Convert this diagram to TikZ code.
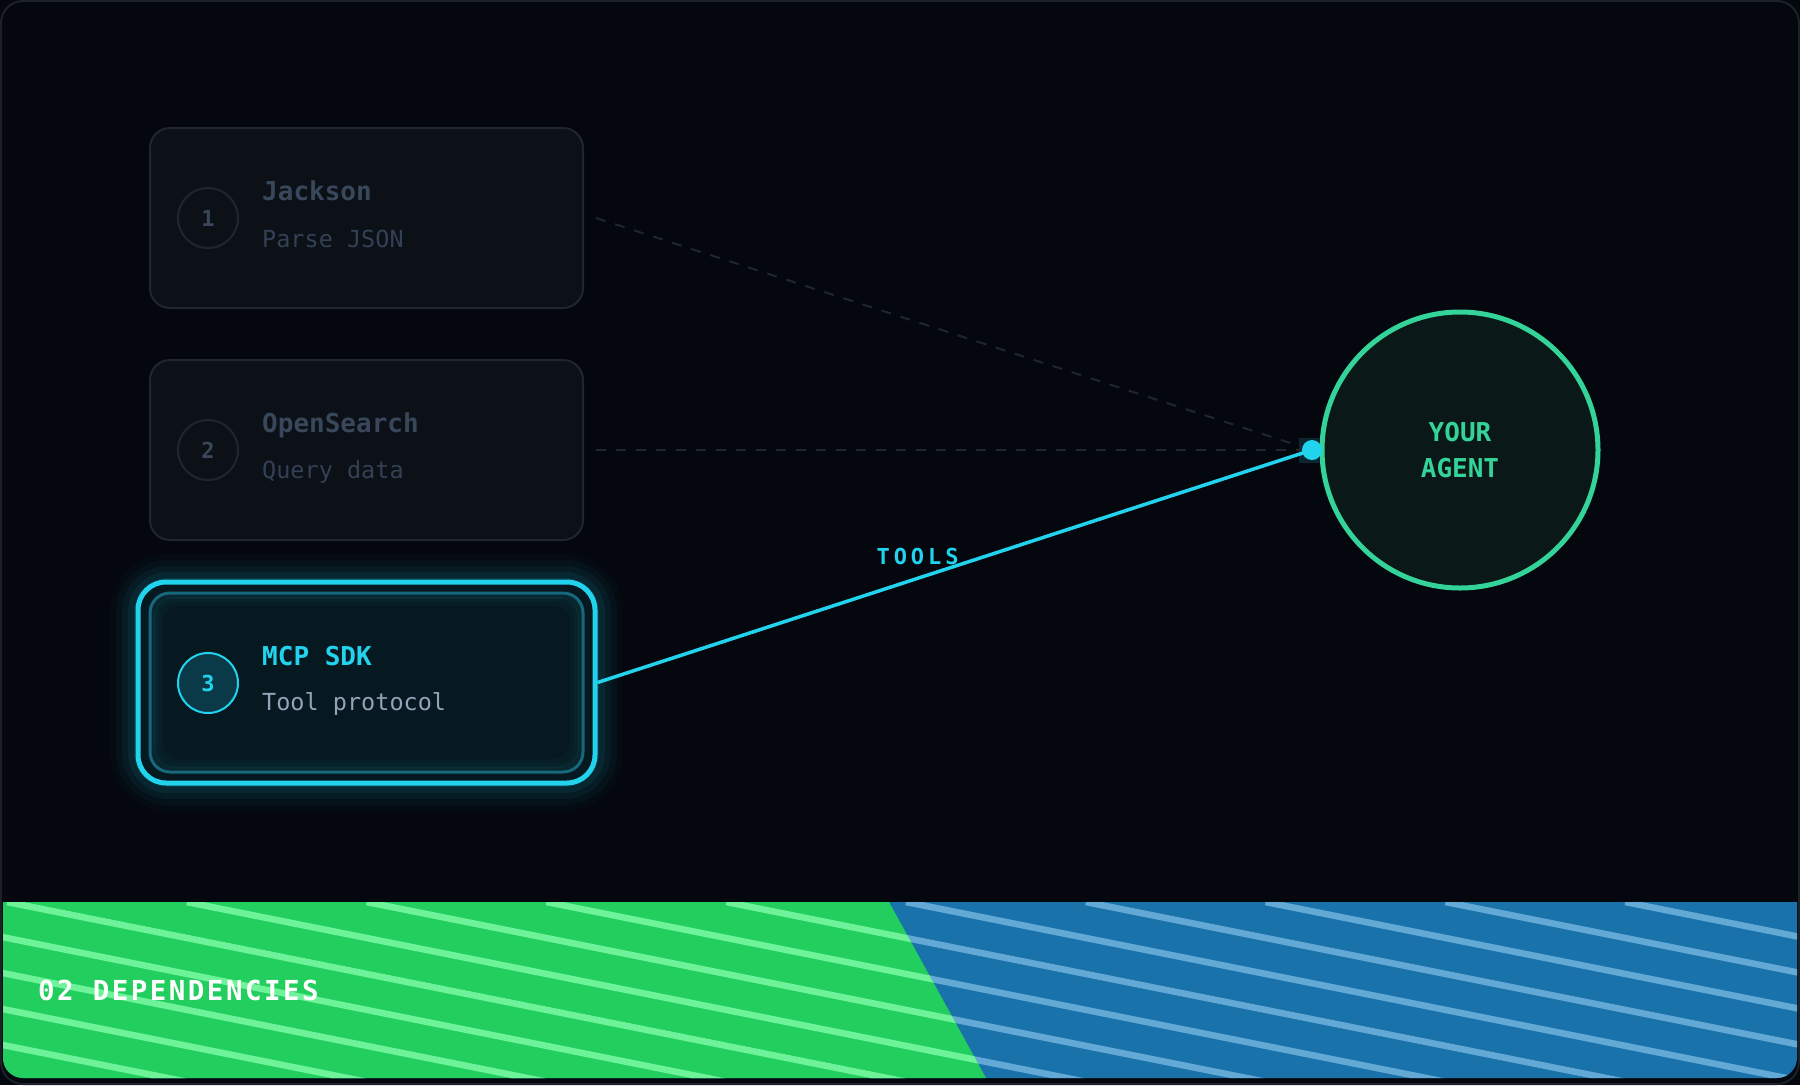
\documentclass[tikz,border=0pt]{standalone}
\usepackage{fontspec}
\setmonofont{DejaVu Sans Mono}
\newfontfamily\toolsfont[LetterSpace=18]{DejaVu Sans Mono}
\newfontfamily\bandfont[LetterSpace=9]{DejaVu Sans Mono}
\begin{document}
\begin{tikzpicture}[x=1pt, y=-1pt,
  card/.style={draw=cardline, fill=cardfill, line width=2pt, rounded corners=20pt, minimum width=433pt, minimum height=180pt, inner sep=0pt},
  numdot/.style={circle, draw=cardline, line width=2pt, minimum size=60pt, inner sep=0pt, text=dimtext, font=\ttfamily\bfseries\fontsize{22}{22}\selectfont},
  cardtitle/.style={anchor=base west, inner sep=0pt, text=dimtext, font=\ttfamily\bfseries\fontsize{26}{26}\selectfont},
  carddesc/.style={anchor=base west, inner sep=0pt, text=dimdesc, font=\ttfamily\fontsize{23.5}{23.5}\selectfont},
  faintline/.style={draw=dashcol, line width=2pt, dash pattern=on 10pt off 10pt}]
\definecolor{page}{HTML}{04070D}
\definecolor{frame}{HTML}{1B2029}
\definecolor{cardfill}{HTML}{0C1017}
\definecolor{cardline}{HTML}{1F2630}
\definecolor{dimtext}{HTML}{39475A}
\definecolor{dimdesc}{HTML}{334154}
\definecolor{dashcol}{HTML}{1E2631}
\definecolor{toolcyan}{HTML}{22D3EE}
\definecolor{mcpfill}{HTML}{071920}
\definecolor{mcpinner}{HTML}{17687C}
\definecolor{mcpnum}{HTML}{0A3A48}
\definecolor{mcpdesc}{HTML}{94A3B8}
\definecolor{agentgreen}{HTML}{34D399}
\definecolor{agentfill}{HTML}{0A1917}
\definecolor{hubglow}{HTML}{0A2631}
\definecolor{bandgreen}{HTML}{22CE5E}
\definecolor{greenstripe}{HTML}{6EF29A}
\definecolor{bandblue}{HTML}{1A72AA}
\definecolor{bluestripe}{HTML}{62A9D6}
\useasboundingbox (0,0) rectangle (1800,1085);
\fill[page] (0,0) rectangle (1800,1085);
\draw[frame, fill=page, line width=2pt, rounded corners=22pt] (1,1) rectangle (1799,1084);
%Band:
\begin{scope}
\clip[rounded corners=20pt] (3,860) rectangle (1797,1078);
\clip (0,902) rectangle (1800,1085);
\fill[bandblue] (0,902) rectangle (1800,1085);
\foreach \k in {-5,...,10} \draw[bluestripe, line width=6.5pt] (7+179.8*\k,902) -- ++(1000,200);
\clip (0,902) -- (889,902) -- (986,1078) -- (0,1078) -- cycle;
\fill[bandgreen] (0,902) rectangle (1800,1085);
\foreach \k in {-5,...,10} \draw[greenstripe, line width=6.5pt] (7+179.8*\k,902) -- ++(1000,200);
\end{scope}
\node[anchor=base west, inner sep=0pt, text=white, font=\bandfont\bfseries\fontsize{27.5}{27.5}\selectfont] (bandlabel) at (38,1000) {02 DEPENDENCIES};
%Cards:
\node[card] (jackson) at (366.5,218) {};
\node[numdot] (n1) at (208,218) {1};
\node[cardtitle] (jackson-name) at (262,200) {Jackson};
\node[carddesc] (jackson-desc) at (262,247) {Parse JSON};

\node[card] (opensearch) at (366.5,450) {};
\node[numdot] (n2) at (208,450) {2};
\node[cardtitle] (opensearch-name) at (262,432) {OpenSearch};
\node[carddesc] (opensearch-desc) at (262,478) {Query data};
%Glow:
\foreach \g/\o in {28/0.025, 22/0.035, 16/0.05, 10/0.07, 4/0.09}
  \fill[toolcyan, opacity=\o, rounded corners=30pt+\g pt] (138-\g,582-\g) rectangle (595+\g,783+\g);
\node[draw=toolcyan, fill=mcpfill, line width=5pt, rounded corners=28pt, minimum width=457pt, minimum height=201pt, inner sep=0pt] (mcpframe) at (366.5,682.5) {};
\foreach \g/\o in {10/0.03, 6/0.05, 3/0.07}
  \draw[toolcyan, opacity=\o, line width=5pt, rounded corners=20pt] (150+\g,593+\g) rectangle (583-\g,772-\g);
\node[card, draw=mcpinner, fill=none, line width=3pt, minimum height=179pt] (mcp) at (366.5,682.5) {};
\node[numdot, draw=toolcyan, fill=mcpnum, text=toolcyan] (n3) at (208,683) {3};
\node[cardtitle, text=toolcyan] (mcp-name) at (262,665) {MCP SDK};
\node[carddesc, text=mcpdesc] (mcp-desc) at (262,710) {Tool protocol};
%Agent:
\node[circle, draw=agentgreen, fill=agentfill, line width=5pt, minimum size=276pt, inner sep=0pt, align=center, text=agentgreen, font=\ttfamily\bfseries\fontsize{26}{36}\selectfont] (agent) at (1460,450) {YOUR\\AGENT};
\fill[hubglow] (1299,438) rectangle (1320,463);
\coordinate (hub) at (1312,450);
%Links:
\draw[faintline] ([xshift=12pt]jackson.east) -- (hub);
\draw[faintline] ([xshift=12pt]opensearch.east) -- (hub);
\draw[toolcyan, line width=3.5pt] (mcpframe.east) -- (hub)
  node[pos=0.448, anchor=base, yshift=14pt, text=toolcyan, font=\toolsfont\bfseries\fontsize{22}{22}\selectfont] (toolslabel) {TOOLS};
\node[circle, fill=toolcyan, minimum size=20pt, inner sep=0pt] (hubdot) at (hub) {};
\end{tikzpicture}
\end{document}
